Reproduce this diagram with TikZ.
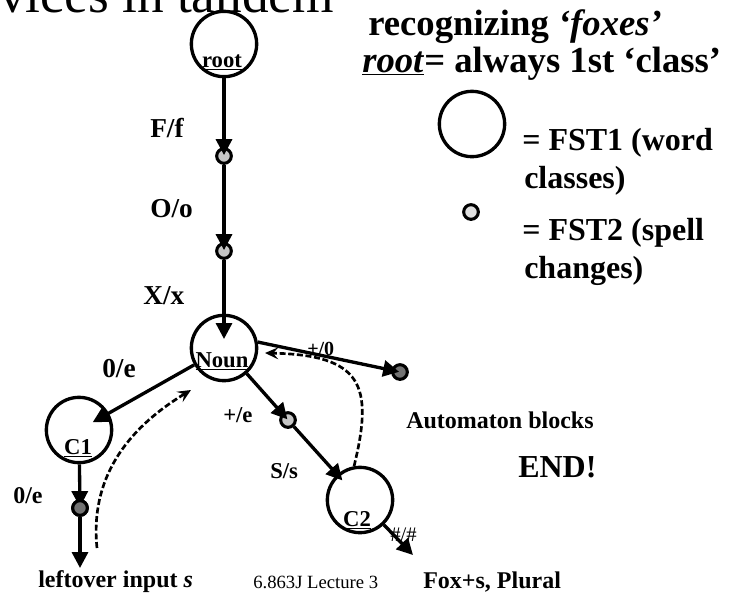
\documentclass[tikz,border=0pt]{standalone}
\usepackage{fontspec}
\setmainfont{Liberation Serif}
\usetikzlibrary{arrows.meta}
\tikzset{
    statecirc/.style={draw, circle, line width=2.5pt, minimum size=49pt, inner sep=0pt},
    statelab/.style={anchor=base, inner sep=0pt, font=\bfseries\fontsize{17}{17}\selectfont},
    spelldot/.style={draw, circle, line width=2.3pt, minimum size=11pt, inner sep=0pt},
    fstarrow/.style={-{Triangle[length=12pt,width=12pt]}, line width=2.5pt, shorten >=-6pt},
    pathnote/.style={dash pattern=on 4.5pt off 2pt, line width=2pt,
        -{Stealth[length=10pt,width=9pt,inset=4pt]}},
    arclab/.style={anchor=base west, inner sep=0pt, font=\bfseries\fontsize{20.5}{20.5}\selectfont},
    smallarclab/.style={anchor=base west, inner sep=0pt, font=\bfseries\fontsize{17}{17}\selectfont},
    notetext/.style={anchor=base west, inner sep=0pt, font=\bfseries\fontsize{18}{18}\selectfont},
    legtext/.style={anchor=base west, inner sep=0pt, font=\bfseries\fontsize{24}{24}\selectfont}
}

\begin{document}
\begin{tikzpicture}[x=0.75pt, y=-0.75pt]
\useasboundingbox (0,0) rectangle (732,593);

% heading
\node[anchor=base west, inner sep=0pt, font=\fontsize{40}{40}\selectfont] (title) at (-1,12) {vices in tandem};
\node[anchor=base west, inner sep=0pt, font=\bfseries\fontsize{27.5}{27.5}\selectfont] (recog) at (368,35) {recognizing \textit{‘foxes’}};
\node[anchor=base west, inner sep=0pt, font=\bfseries\fontsize{27.5}{27.5}\selectfont] (rootnote) at (362,72) {\underline{\textit{root}}= always 1st ‘class’};

% legend
\node[statecirc] (legcirc) at (472,124) {};
\node[spelldot, fill=gray!25] (legdot) at (471,212) {};
\node[legtext] (leg1) at (522,150) {= FST1 (word};
\node[legtext] (leg2) at (524,188) {classes)};
\node[legtext] (leg3) at (522,240) {= FST2 (spell};
\node[legtext] (leg4) at (524,278) {changes)};

% word-class states
\node[statecirc] (root) at (224,44) {};
\node[statecirc] (noun) at (224,348) {};
\node[statecirc] (cone) at (79,430) {};
\node[statecirc] (ctwo) at (360,500) {};
\node[statelab] (rootlab) at (222,67) {\underline{root}};
\node[statelab] (nounlab) at (222,367) {\underline{Noun}};
\node[statelab] (conelab) at (78,454) {\underline{C1}};
\node[statelab] (ctwolab) at (357,526) {\underline{C2}};

% spelling states
\node[spelldot, fill=gray!45] (sf) at (224,156) {};
\node[spelldot, fill=gray!45] (so) at (224,251) {};
\node[spelldot, fill=gray!45] (se) at (288,420) {};
\node[spelldot, fill=black!55] (sblock) at (400,372) {};
\node[spelldot, fill=black!55] (sleft) at (80,508) {};
\coordinate (leftend) at (80,568);
\coordinate (pluralend) at (413,555);

% transitions
\draw[fstarrow] (root) -- (sf);
\draw[fstarrow] (sf) -- (so);
\draw[fstarrow, shorten >=-19pt] (so) -- (noun);
\draw[fstarrow, shorten >=-14pt] (noun) -- (cone);
\draw[fstarrow] (cone) -- (sleft);
\draw[fstarrow, shorten >=0pt] (sleft) -- (leftend);
\draw[fstarrow] (noun) -- (se);
\draw[fstarrow] (se) -- (ctwo);
\draw[fstarrow] (noun.10) -- (sblock);
\draw[fstarrow, shorten >=0pt] (ctwo) -- (pluralend);

% redraw dot over the line through it
\node[spelldot, fill=black!55] at (sleft) {};

\node[arclab] (ff) at (150,137) {F/f};
\node[arclab] (oo) at (150,217) {O/o};
\node[arclab] (xx) at (143,304) {X/x};
\node[arclab] (oe) at (102,377) {0/e};
\node[smallarclab, font=\bfseries\fontsize{18}{18}\selectfont] (oeleft) at (13,503) {0/e};
\node[smallarclab] (pe) at (223,422) {+/e};
\node[smallarclab] (ss) at (270,478) {S/s};
\node[smallarclab, font=\bfseries\fontsize{15}{15}\selectfont] (pz) at (307,355) {+/0};
\node[anchor=base west, inner sep=0pt, font=\fontsize{15.5}{15.5}\selectfont] (hh) at (390,541) {\#/\#};

% search paths
\coordinate (lefttail) at (97,548);
\coordinate (lefthead) at (191,390);
\coordinate (righthead) at (265,353);
\draw[pathnote] (lefttail) .. controls (90,480) and (125,430) .. (lefthead);
\draw[pathnote] (ctwo.100) .. controls (374,385) and (362,355) .. (righthead);

% notes
\node[notetext] (blocks) at (406,428) {Automaton blocks};
\node[legtext] (endnote) at (518,477) {END!};
\node[notetext] (leftover) at (38,587) {leftover input \textit{s}};
\node[anchor=base west, inner sep=0pt, font=\fontsize{14}{14}\selectfont] (lecture) at (253,588) {6.863J Lecture 3};
\node[notetext] (plural) at (423,588) {Fox+s, Plural};
\end{tikzpicture}
\end{document}
